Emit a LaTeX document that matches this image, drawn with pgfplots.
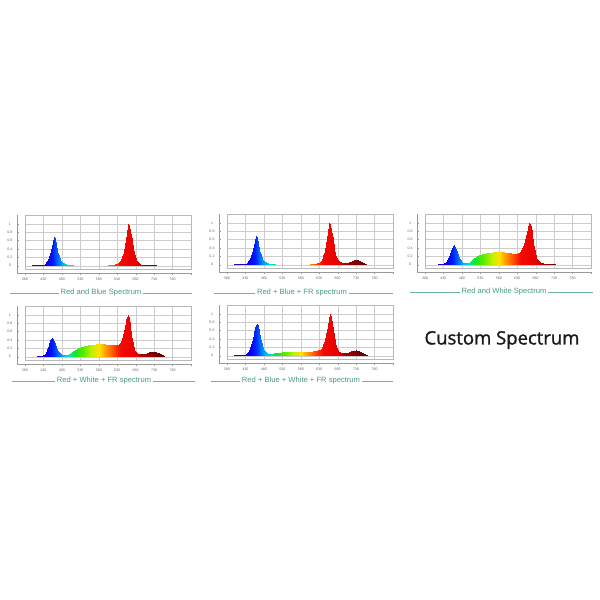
\documentclass[border=0pt]{standalone}
\usepackage{fontspec}
\setmainfont{Liberation Sans}
\newfontfamily\osans{Open Sans}[FakeBold=1.3]
\usepackage{pgfplots}
\usepackage{pgfplotstable}
\pgfplotsset{compat=1.18}
\definecolor{ttl}{RGB}{70,155,125}
\definecolor{ttlline}{RGB}{110,180,150}

% wavelength -> colour
\pgfplotsset{colormap={wl}{
  rgb255(380pt)=(70,0,120) rgb255(420pt)=(40,0,200) rgb255(440pt)=(10,0,235)
  rgb255(455pt)=(0,30,255) rgb255(470pt)=(0,110,255) rgb255(485pt)=(0,190,250)
  rgb255(500pt)=(0,230,170) rgb255(515pt)=(20,230,40) rgb255(535pt)=(80,235,0)
  rgb255(560pt)=(190,240,0) rgb255(580pt)=(255,225,0) rgb255(600pt)=(255,150,0)
  rgb255(620pt)=(255,70,0) rgb255(640pt)=(245,10,0) rgb255(680pt)=(230,0,0)
  rgb255(700pt)=(170,0,0) rgb255(730pt)=(120,0,0) rgb255(780pt)=(90,0,0)}}

\pgfplotstableread{
x y
385 0
400 0.004
415 0.008
425 0.015
430 0.025
435 0.05
440 0.1
445 0.2
450 0.36
455 0.56
458 0.68
461 0.64
464 0.52
468 0.36
472 0.23
476 0.14
480 0.09
485 0.055
490 0.035
495 0.022
500 0.014
510 0.006
520 0
595 0
605 0.01
615 0.02
625 0.04
632 0.07
638 0.12
643 0.2
648 0.33
652 0.5
656 0.75
660 1.0
663 0.96
666 0.82
669 0.62
673 0.4
677 0.24
681 0.14
686 0.08
692 0.045
700 0.025
710 0.015
722 0.009
735 0.005
745 0
}\tRB

\pgfplotstableread{
x y
385 0
400 0.004
415 0.008
425 0.015
430 0.025
435 0.05
440 0.1
445 0.2
450 0.36
455 0.56
458 0.68
461 0.64
464 0.52
468 0.36
472 0.23
476 0.14
480 0.09
485 0.055
490 0.035
495 0.022
500 0.014
510 0.006
520 0
595 0
605 0.01
615 0.02
625 0.04
632 0.07
637 0.12
641 0.2
645 0.33
649 0.5
653 0.75
657 1.0
660 0.96
663 0.82
666 0.62
670 0.4
674 0.24
678 0.14
683 0.085
690 0.055
698 0.045
705 0.05
712 0.065
718 0.085
724 0.1
729 0.11
734 0.105
740 0.085
746 0.055
752 0.03
758 0.012
765 0
}\tRBF

\pgfplotstableread{
x y
385 0
400 0.003
415 0.008
425 0.015
432 0.03
438 0.07
443 0.14
448 0.26
453 0.4
458 0.46
462 0.41
466 0.31
470 0.21
474 0.13
478 0.08
483 0.05
488 0.04
493 0.04
498 0.05
503 0.075
508 0.11
514 0.155
520 0.2
527 0.235
535 0.26
545 0.275
555 0.285
565 0.293
575 0.3
585 0.302
595 0.297
605 0.285
613 0.27
620 0.26
626 0.258
632 0.27
638 0.31
643 0.38
648 0.5
653 0.66
658 0.88
663 1.0
666 0.92
669 0.75
673 0.5
677 0.3
681 0.17
686 0.1
692 0.06
700 0.035
710 0.022
720 0.014
732 0.008
745 0
}\tRW

\pgfplotstableread{
x y
385 0
400 0.003
412 0.008
422 0.015
428 0.03
434 0.07
439 0.15
444 0.27
449 0.4
453 0.45
457 0.41
461 0.31
465 0.21
469 0.13
474 0.08
480 0.05
486 0.04
492 0.045
498 0.06
504 0.09
510 0.13
516 0.17
523 0.21
531 0.24
540 0.265
550 0.28
560 0.29
572 0.3
585 0.305
598 0.3
610 0.29
620 0.275
627 0.27
633 0.285
638 0.32
643 0.4
647 0.52
651 0.68
655 0.88
658 1.0
661 0.93
664 0.76
668 0.5
672 0.3
676 0.17
681 0.1
687 0.065
695 0.055
703 0.065
710 0.08
717 0.1
724 0.115
730 0.12
736 0.11
742 0.085
748 0.055
753 0.03
758 0.012
765 0
}\tRWF

\pgfplotstableread{
x y
385 0
400 0.004
414 0.01
424 0.02
431 0.04
437 0.09
442 0.18
447 0.33
452 0.52
456 0.68
460 0.76
463 0.72
466 0.6
470 0.43
474 0.28
478 0.17
483 0.1
488 0.065
493 0.05
500 0.05
508 0.06
518 0.07
530 0.078
545 0.083
560 0.086
575 0.09
590 0.092
603 0.095
613 0.1
621 0.11
628 0.13
634 0.17
640 0.26
645 0.38
649 0.53
653 0.72
656 0.88
659 1.0
662 0.93
665 0.76
669 0.5
673 0.3
677 0.17
682 0.1
688 0.065
695 0.055
703 0.065
710 0.08
717 0.1
724 0.115
731 0.125
737 0.115
743 0.09
749 0.055
754 0.03
759 0.012
766 0
}\tRBWF

% each table twice: first copy is the baseline row of the mesh
\newcommand\dbl[2]{\pgfplotstablevertcat{#2}{#1}\pgfplotstablevertcat{#2}{#1}}
\dbl{\tRB}{\tRBd}
\dbl{\tRBF}{\tRBFd}
\dbl{\tRW}{\tRWd}
\dbl{\tRWF}{\tRWFd}
\dbl{\tRBWF}{\tRBWFd}

\newcommand\specplot[2]{%
  \pgfplotstablegetrowsof{#1}\edef\nr{\pgfplotsretval}%
  \addplot[surf, shader=interp, point meta=x, mesh/rows=2]
    table[x=x, y expr={\coordindex<\nr ? 0 : \thisrow{y}}] {#2};
}

\pgfplotsset{
  specax/.style={
    scale only axis, width=166pt, height=54pt,
    xmin=380, xmax=830, ymin=-0.08, ymax=1.215,
    xtick={380,430,...,830},
    xticklabels={380,430,480,530,580,630,680,730,780,{}},
    ytick={0,0.2,0.4,0.6,0.8,1},
    yticklabels={0,0.2,0.4,0.6,0.8,1},
    grid=major,
    major grid style={line width=0.3pt, draw=black!20},
    axis line style={line width=0.3pt, draw=black!28},
    major tick length=0pt,
    tick label style={font=\fontsize{3.6}{4}\selectfont, text=black!60},
    xticklabel style={anchor=center, yshift=-10pt},
    yticklabel style={anchor=center, xshift=-15pt},
    point meta min=380, point meta max=780,
    colormap name=wl,
    after end axis/.code={
      \draw[black!40, line width=0.3pt] ([xshift=-8pt]rel axis cs:0,1) -- ([xshift=-8pt,yshift=-4pt]rel axis cs:0,0) -- ([yshift=-4pt]rel axis cs:1,0);
      \foreach \t in {380,430,...,830}
        \draw[black!40, line width=0.3pt] ([yshift=-4pt]axis cs:\t,-0.08) -- ++(0,-2pt);
      \foreach \t in {0,0.2,0.4,0.6,0.8,1}
        \draw[black!40, line width=0.3pt] ([xshift=-8pt]axis cs:380,\t) -- ++(2pt,0);
    },
  },
}
\tikzset{
  tline/.style={draw=ttlline, line width=0.5pt},
  ttext/.style={fill=white, inner xsep=2pt, text=ttl, font=\fontsize{7.6}{9}\selectfont},
}

\begin{document}
\begin{tikzpicture}
\path[use as bounding box] (0,0) rectangle (600pt,600pt);

\begin{axis}[specax, at={(25pt,331pt)}, anchor=south west]
\specplot{\tRB}{\tRBd}
\end{axis}
\begin{axis}[specax, at={(227pt,332pt)}, anchor=south west]
\specplot{\tRBF}{\tRBFd}
\end{axis}
\begin{axis}[specax, at={(425pt,332pt)}, anchor=south west]
\specplot{\tRW}{\tRWd}
\end{axis}
\begin{axis}[specax, at={(25pt,240pt)}, anchor=south west]
\specplot{\tRWF}{\tRWFd}
\end{axis}
\begin{axis}[specax, at={(227pt,241pt)}, anchor=south west]
\specplot{\tRBWF}{\tRBWFd}
\end{axis}

\draw[tline] (10pt,307pt) -- (192pt,307pt);
\node[ttext] at (101pt,307pt) {Red and Blue Spectrum};
\draw[tline] (214pt,307pt) -- (393pt,307pt);
\node[ttext] at (302pt,307pt) {Red + Blue + FR spectrum};
\draw[tline] (410pt,308pt) -- (593pt,308pt);
\node[ttext] at (504pt,308pt) {Red and White Spectrum};
\draw[tline] (12pt,219pt) -- (195pt,219pt);
\node[ttext] at (104pt,219pt) {Red + White + FR spectrum};
\draw[tline] (211pt,219pt) -- (393pt,219pt);
\node[ttext] at (301pt,219pt) {Red + Blue + White + FR spectrum};

\node[text=black!90, font=\osans\fontsize{18.5}{22}\selectfont] at (502pt,260pt) {Custom Spectrum};
\end{tikzpicture}
\end{document}
